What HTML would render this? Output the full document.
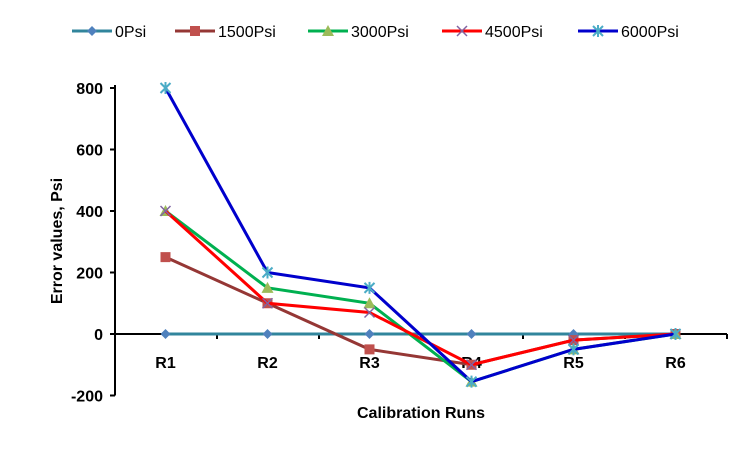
<!DOCTYPE html>
<html><head><meta charset="utf-8"><style>
body{margin:0;background:#fff}
svg{font-family:"Liberation Sans",Arial,sans-serif}
</style></head><body>
<svg width="750" height="450">
<g id="legend"></g>
<g id="axes"></g>
<g id="series"></g>
<text x="62" y="241" transform="rotate(-90 62 241)" text-anchor="middle" font-size="16" font-weight="bold">Error values, Psi</text>
<text x="421" y="418" text-anchor="middle" font-size="16" font-weight="bold">Calibration  Runs</text>
</svg>
<script>
const categories=["R1","R2","R3","R4","R5","R6"];
const seriesNames=["0Psi","1500Psi","3000Psi","4500Psi","6000Psi"];
const s0=[0,0,0,0,0,0];
const s1500=[250,100,-50,-100,-20,0];
const s3000=[400,150,100,-155,-50,0];
const s4500=[400,100,70,-100,-20,0];
const s6000=[800,200,150,-155,-50,0];
const yTicks=[-200,0,200,400,600,800];
const colors=["#31859c","#953735","#00b050","#ff0000","#0000cc"];
const mcolors=["#4f81bd","#c0504d","#9bbb59","#8064a2","#4bacc6"];
const allSeries=[s0,s1500,s3000,s4500,s6000];
const NS="http://www.w3.org/2000/svg";
const X0=115,X1=727,Y0=334,PY=246/800;
const xs=i=>X0+(X1-X0)/categories.length*(i+0.5)-0.5;
const ys=v=>Y0-v*PY;
function el(t,a,p){const e=document.createElementNS(NS,t);for(const k in a)e.setAttribute(k,a[k]);p.appendChild(e);return e;}
const ax=document.getElementById('axes');
const yl=el('line',{x1:X0,x2:X0,y1:ys(800)-3,y2:ys(-200),stroke:'#000','stroke-width':2},ax);


yTicks.forEach(v=>{
 el('line',{x1:X0-5,x2:X0,y1:ys(v),y2:ys(v),stroke:'#000','stroke-width':2},ax);
 const t=el('text',{x:X0-12,y:ys(v)+6,'text-anchor':'end','font-size':16,'font-weight':'bold'},ax);t.textContent=v;
 
 
});
const xl=el('line',{x1:X0,x2:X1,y1:Y0,y2:Y0,stroke:'#000','stroke-width':2},ax);


for(let i=0;i<=categories.length;i++){const x=X0+(X1-X0)/categories.length*i;el('line',{x1:x,x2:x,y1:Y0,y2:Y0+5,stroke:'#000','stroke-width':2},ax);}
categories.forEach((c,i)=>{const t=el('text',{x:xs(i),y:368,'text-anchor':'middle','font-size':16,'font-weight':'bold'},ax);t.textContent=c;
 
 });
function marker(k,x,y,g){
 const c=mcolors[k];
 if(k==0)el('path',{d:`M${x} ${y-5}L${x+5} ${y}L${x} ${y+5}L${x-5} ${y}Z`,fill:c},g);
 else if(k==1)el('rect',{x:x-5,y:y-5,width:10,height:10,fill:c},g);
 else if(k==2)el('path',{d:`M${x} ${y-6}L${x+6} ${y+5}L${x-6} ${y+5}Z`,fill:c},g);
 else if(k==3)el('path',{d:`M${x-5} ${y-5}L${x+5} ${y+5}M${x-5} ${y+5}L${x+5} ${y-5}`,stroke:c,'stroke-width':1.5},g);
 else el('path',{d:`M${x-5} ${y-5}L${x+5} ${y+5}M${x-5} ${y+5}L${x+5} ${y-5}M${x} ${y-6}L${x} ${y+6}`,stroke:c,'stroke-width':2},g);
}
const sg=document.getElementById('series');
allSeries.forEach((s,k)=>{
 const g=el('g',{},sg);
 
 
 el('polyline',{points:s.map((v,i)=>xs(i)+','+ys(v)).join(' '),fill:'none',stroke:colors[k],'stroke-width':3},g);
 s.forEach((v,i)=>marker(k,xs(i),ys(v),g));
});
const lg=document.getElementById('legend');
const lx=[72,175,308,442,578];
seriesNames.forEach((n,k)=>{
 const g=el('g',{},lg);
 
 
 el('line',{x1:lx[k],x2:lx[k]+40,y1:31,y2:31,stroke:colors[k],'stroke-width':3},g);
 marker(k,lx[k]+20,31,g);
 const t=el('text',{x:lx[k]+43,y:37,'font-size':16},g);t.textContent=n;
});
</script>
</body></html>
